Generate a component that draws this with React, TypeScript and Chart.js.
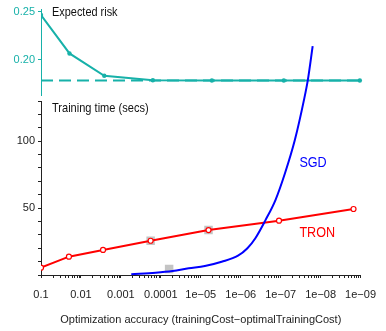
import React, { useEffect, useRef } from "react";
import { Chart, registerables } from "chart.js";

Chart.register(...registerables);

// ---- data ----
const tronAccuracy = [0.1, 0.02, 0.0028, 1.8e-4, 6.4e-6, 1.1e-7, 1.5e-9];
const expectedRisk = [0.2463, 0.2063, 0.183, 0.1783, 0.1781, 0.1781, 0.1781];
const riskBaselineAccuracy = [0.1, 1.5e-9];
const riskBaseline = [0.178, 0.178];
const tronTime = [5.5, 13.7, 18.7, 25.6, 33.6, 40.6, 49.3];
const sgdAccuracy = [5.5e-4, 1.35e-4, 5.1e-5, 2.0e-5, 7.9e-6, 3.0e-6, 1.17e-6, 6.8e-7, 4.3e-7, 2.4e-7, 1.35e-7, 7.8e-8, 4.4e-8, 2.6e-8, 2.08e-8, 1.58e-8];
const sgdTime = [0.5, 1.7, 3.0, 5.0, 6.7, 9.9, 14.4, 20, 27.5, 41, 56, 76, 101, 131, 146, 171];
const markAccuracy = [1.8e-4, 6.2e-5, 6.4e-6];
const markTime = [25.6, 4.5, 33.6];

const xMajorValues = [1e-1, 1e-2, 1e-3, 1e-4, 1e-5, 1e-6, 1e-7, 1e-8, 1e-9];
const xMajorLabels = ["0.1", "0.01", "0.001", "0.0001", "1e\u221205", "1e\u221206", "1e\u221207", "1e\u221208", "1e\u221209"];
const timeTicks = [0, 10, 20, 30, 40, 50, 60, 70, 80, 90, 100, 110, 120, 130];
const timeLabels = [50, 100];
const riskTicks = [0.2, 0.25];
const riskLabels = ["0.20", "0.25"];

const xTitle = "Optimization accuracy (trainingCost\u2212optimalTrainingCost)";

const TEAL = "#17b1a9";
const AXIS = "#222";
const FONT = '"Liberation Sans", Arial, sans-serif';

const pts = (xs: number[], ys: number[]) => xs.map((x, i) => ({ x, y: ys[i] }));

function minorX(): number[] {
  const out: number[] = [];
  xMajorValues.forEach((m, i) => {
    out.push(m);
    if (i < xMajorValues.length - 1) {
      for (let k = 2; k <= 9; k++) out.push(m / k);
    }
  });
  return out;
}

const xScaleBase = (display: boolean): any => ({
  type: "logarithmic",
  reverse: true,
  min: 1e-9,
  max: 0.1,
  display,
  afterBuildTicks: (s: any) => {
    s.ticks = minorX().map((v) => ({ value: v }));
  },
  afterFit: (s: any) => {
    s.height = display ? 56 : 0;
  },
  border: { display: true, color: AXIS, width: 1 },
  grid: { display: true, drawOnChartArea: false, drawTicks: true, tickLength: 3, color: AXIS, tickColor: AXIS },
  ticks: {
    autoSkip: false,
    maxRotation: 0,
    padding: 10,
    color: AXIS,
    font: { size: 11 },
    callback: (v: any) => {
      const idx = xMajorValues.findIndex((m) => Math.abs(Math.log10(m) - Math.log10(Number(v))) < 1e-6);
      return idx >= 0 ? xMajorLabels[idx] : "";
    },
  },
  title: { display: true, text: xTitle, color: AXIS, font: { size: 11 }, padding: { top: 0, bottom: 4 } },
});

type Note = { text: string; x?: number; y?: number; dx?: number; dy?: number; size: number; sx: number; color: string };

const notesPlugin = (notes: Note[]) => ({
  id: "notes",
  afterDatasetsDraw(chart: any) {
    const ctx = chart.ctx;
    const xs = chart.scales.x;
    const ys = chart.scales.y;
    const area = chart.chartArea;
    notes.forEach((n) => {
      ctx.save();
      ctx.font = `${n.size}px ${FONT}`;
      ctx.fillStyle = n.color;
      ctx.textAlign = "left";
      ctx.textBaseline = "middle";
      const px = n.x !== undefined ? xs.getPixelForValue(n.x) : area.left + (n.dx || 0);
      const py = n.y !== undefined ? ys.getPixelForValue(n.y) : area.top + (n.dy || 0);
      ctx.translate(px, py);
      ctx.scale(n.sx, 1);
      ctx.fillText(n.text, 0, 0);
      ctx.restore();
    });
  },
});

export default function App() {
  const topRef = useRef<HTMLCanvasElement>(null);
  const botRef = useRef<HTMLCanvasElement>(null);

  useEffect(() => {
    document.body.style.margin = "0";
    Chart.defaults.font.family = FONT;

    const top = new Chart(topRef.current as HTMLCanvasElement, {
      type: "line",
      data: {
        datasets: [
          {
            data: pts(tronAccuracy, expectedRisk),
            borderColor: TEAL,
            backgroundColor: TEAL,
            borderWidth: 2,
            pointRadius: 2.2,
            pointBorderWidth: 0,
          },
          {
            data: pts(riskBaselineAccuracy, riskBaseline),
            borderColor: TEAL,
            borderWidth: 2,
            borderDash: [12, 6],
            pointRadius: 0,
          },
        ],
      } as any,
      options: {
        animation: false,
        responsive: false,
        layout: { padding: { left: 0, top: 6, right: 19, bottom: 236 } },
        plugins: { legend: { display: false }, tooltip: { enabled: false } },
        scales: {
          x: xScaleBase(false),
          y: {
            type: "linear",
            min: 0.163,
            max: 0.252,
            afterBuildTicks: (s: any) => {
              s.ticks = riskTicks.map((v) => ({ value: v }));
            },
            afterFit: (s: any) => {
              s.width = 41;
            },
            border: { display: true, color: TEAL, width: 1 },
            grid: { display: true, drawOnChartArea: false, tickLength: 3, color: TEAL, tickColor: TEAL },
            ticks: {
              padding: 3,
              color: TEAL,
              font: { size: 11 },
              callback: (v: any) => {
                const i = riskTicks.findIndex((t) => Math.abs(t - Number(v)) < 1e-9);
                return i >= 0 ? riskLabels[i] : "";
              },
            },
          },
        },
      } as any,
      plugins: [notesPlugin([{ text: "Expected risk", dx: 11, dy: 2.5, size: 13, sx: 0.84, color: "#111" }])],
    });

    const bot = new Chart(botRef.current as HTMLCanvasElement, {
      type: "line",
      data: {
        datasets: [
          {
            data: pts(sgdAccuracy, sgdTime),
            borderColor: "#0000ff",
            borderWidth: 2,
            pointRadius: 0,
            cubicInterpolationMode: "monotone",
            clip: false,
          },
          {
            data: pts(tronAccuracy, tronTime),
            borderColor: "#ff0000",
            backgroundColor: "#ffffff",
            borderWidth: 2,
            pointRadius: 2.5,
            pointBorderWidth: 1.2,
            pointBorderColor: "#ff0000",
            pointBackgroundColor: "#ffffff",
          },
          {
            data: pts(markAccuracy, markTime),
            showLine: false,
            pointStyle: "rect",
            pointRadius: 6,
            pointBorderWidth: 0,
            pointBackgroundColor: "#c4c4c4",
            backgroundColor: "#c4c4c4",
            borderColor: "#c4c4c4",
          },
        ],
      } as any,
      options: {
        animation: false,
        responsive: false,
        layout: { padding: { left: 0, top: 101, right: 19, bottom: 0 } },
        plugins: { legend: { display: false }, tooltip: { enabled: false } },
        scales: {
          x: xScaleBase(true),
          y: {
            type: "linear",
            min: 0,
            max: 130,
            afterBuildTicks: (s: any) => {
              s.ticks = timeTicks.map((v) => ({ value: v }));
            },
            afterFit: (s: any) => {
              s.width = 41;
            },
            border: { display: true, color: AXIS, width: 1 },
            grid: { display: true, drawOnChartArea: false, tickLength: 3, color: AXIS, tickColor: AXIS },
            ticks: {
              padding: 3,
              color: AXIS,
              font: { size: 11 },
              autoSkip: false,
              callback: (v: any) => (timeLabels.includes(Number(v)) ? String(v) : ""),
            },
          },
        },
      } as any,
      plugins: [
        notesPlugin([
          { text: "Training time (secs)", dx: 11, dy: 7, size: 13, sx: 0.85, color: "#111" },
          { text: "SGD", x: 3.4e-8, y: 83.5, size: 15, sx: 0.84, color: "#0000ff" },
          { text: "TRON", x: 3.4e-8, y: 31.4, size: 15, sx: 0.84, color: "#ff0000" },
        ]),
      ],
    });

    return () => {
      top.destroy();
      bot.destroy();
    };
  }, []);

  return (
    <div style={{ position: "relative", width: 386, height: 331, background: "#fff", overflow: "hidden" }}>
      <canvas ref={topRef} width={386} height={331} style={{ position: "absolute", left: 0, top: 0 }} />
      <canvas ref={botRef} width={386} height={331} style={{ position: "absolute", left: 0, top: 0 }} />
    </div>
  );
}
